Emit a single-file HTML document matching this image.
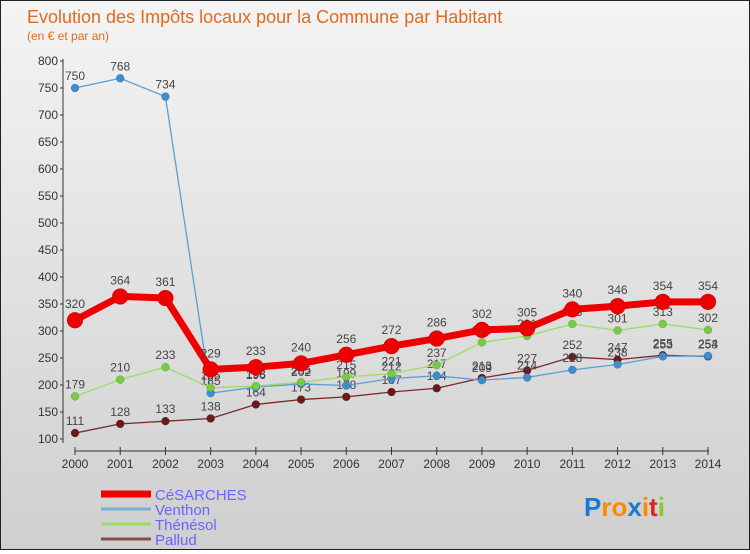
<!DOCTYPE html>
<html><head><meta charset="utf-8"><style>
body{margin:0;width:750px;height:550px;overflow:hidden;font-family:"Liberation Sans",sans-serif}
#wrap{position:relative;width:748px;height:548px;border:1px solid #222;background:linear-gradient(#f4f4f4,#cfcfcf)}
</style></head><body>
<div id="wrap">
<svg id="chart" width="748" height="548"></svg>
</div>
<script>
const years=[2000,2001,2002,2003,2004,2005,2006,2007,2008,2009,2010,2011,2012,2013,2014];
const cesarches=[320,364,361,229,233,240,256,272,286,302,305,340,346,354,354];
const venthon=[750,768,734,185,196,202,199,212,217,209,214,228,238,253,254];
const thenesol=[179,210,233,195,198,205,215,221,237,279,291,313,301,313,302];
const pallud=[111,128,133,138,164,173,178,187,194,213,227,252,247,255,253];
const yTicks=[100,150,200,250,300,350,400,450,500,550,600,650,700,750,800];
const NS="http://www.w3.org/2000/svg";
const svg=document.getElementById('chart');
const X=i=>74+i*(707-74)/14;
const Y=v=>438-(v-100)*(438-60)/700;
function el(t,a,p){const e=document.createElementNS(NS,t);for(const k in a)e.setAttribute(k,a[k]);(p||svg).appendChild(e);return e;}
function txt(x,y,s,a){const e=el('text',Object.assign({x:x,y:y},a));e.textContent=s;return e;}
const t1=txt(26,22,'Evolution des Impôts locaux pour la Commune par Habitant',{'font-size':18,fill:'#e06a20'});


const t2=txt(26,39,'(en € et par an)',{'font-size':12,fill:'#e06a20'});


// axes
const ya=el('line',{x1:62,y1:58,x2:62,y2:442,stroke:'#333'});


const xa=el('line',{x1:74,y1:450,x2:708,y2:450,stroke:'#333'});


yTicks.forEach(v=>{
 el('line',{x1:59,y1:Y(v),x2:62,y2:Y(v),stroke:'#333'});
 const t=txt(57,Y(v)+4,v,{'font-size':12,fill:'#333','text-anchor':'end'});
 
 
});
years.forEach((yr,i)=>{
 el('line',{x1:X(i),y1:446,x2:X(i),y2:454,stroke:'#333'});
 const t=txt(X(i),467,yr,{'font-size':12,fill:'#333','text-anchor':'middle'});
 
 
});
function series(data,color,dot,lw,r,name){
 const g=el('g',{});
 
 
 el('polyline',{points:data.map((v,i)=>X(i)+','+Y(v)).join(' '),fill:'none',stroke:color,'stroke-width':lw,'stroke-linejoin':'round'},g);
 data.forEach((v,i)=>{
  const c=el('circle',{cx:X(i),cy:Y(v),r:r,fill:dot,stroke:'rgba(0,0,0,0.25)','stroke-width':0.5},g);
  
  
  const t=txt(X(i),Y(v)-r-4,v,{'font-size':12,fill:'#444','text-anchor':'middle'},g);
  
  
 });
}
series(pallud,'#7a2a2a','#6b1a1a',1.3,4,'pallud');
series(venthon,'#5a9fd4','#3d8ed0',1.3,4,'venthon');
series(thenesol,'#99dd66','#77cc44',1.3,4,'thenesol');
series(cesarches,'#ee0000','#ee0000',7,8,'cesarches');
// legend
const leg=[['CéSARCHES','#ee0000',7],['Venthon','#7aaed8',3],['Thénésol','#99dd66',3],['Pallud','#8a4a4a',3]];
leg.forEach((l,i)=>{
 const y=493+i*15;
 const g=el('g',{});
 
 
 el('line',{x1:100,y1:y,x2:150,y2:y,stroke:l[1],'stroke-width':l[2]},g);
 txt(154,y+6,l[0],{'font-size':15,fill:'#6666ff'},g);
});
// logo
const lg=el('text',{x:583,y:515,'font-size':26,'font-weight':'bold'});


[['P','#1a7ad0'],['ro','#ff8800'],['x','#1a7ad0'],['i','#ff8800'],['t','#dd2222'],['i','#88cc22']].forEach(p=>{const s=el('tspan',{fill:p[1]},lg);s.textContent=p[0];});
</script>
</body></html>
